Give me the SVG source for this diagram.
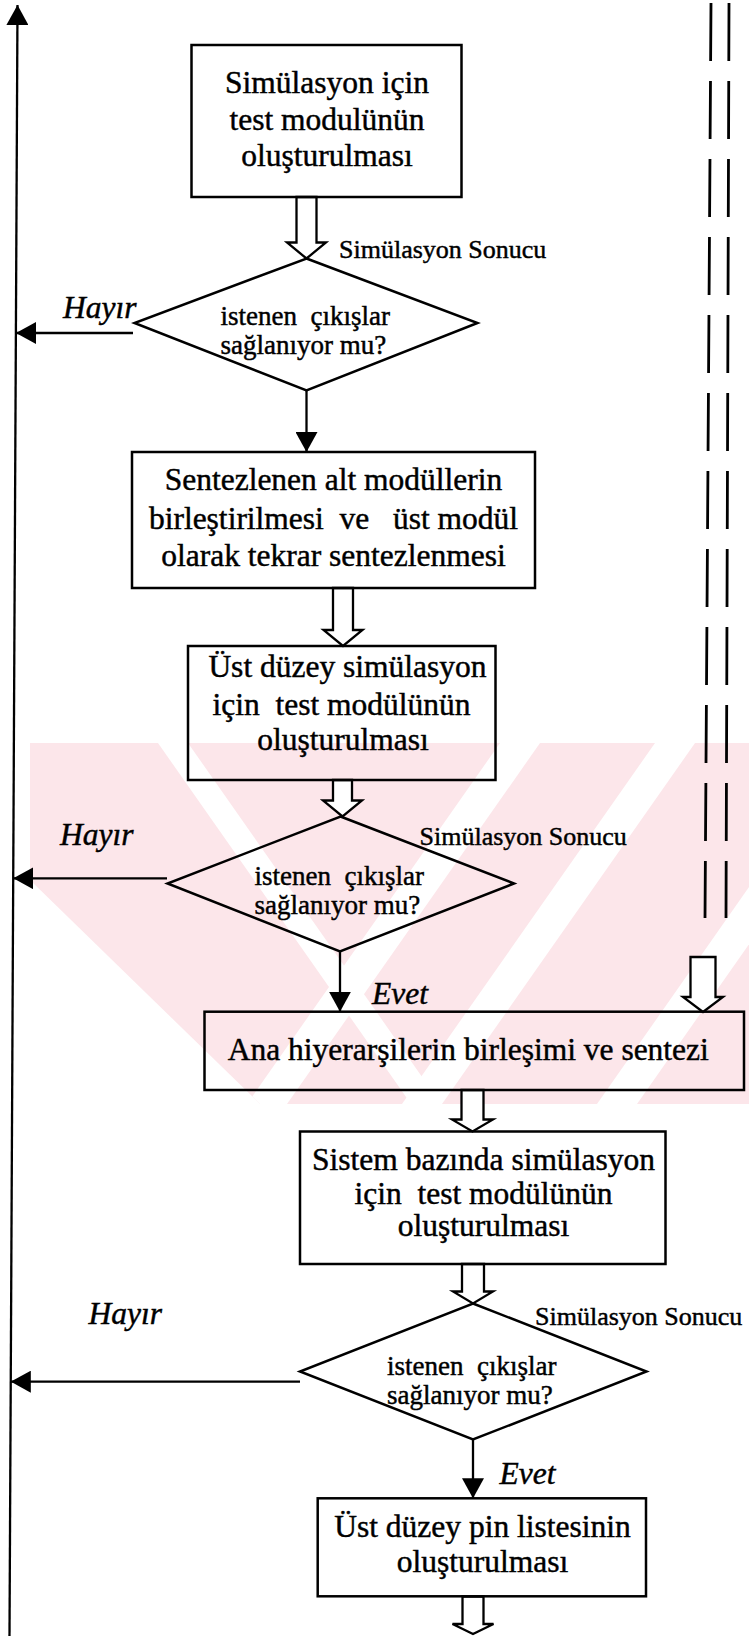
<svg xmlns="http://www.w3.org/2000/svg" width="749" height="1636" viewBox="0 0 749 1636">
  <defs>
    <marker id="tri" viewBox="0 0 20 22" refX="20" refY="11" markerWidth="20" markerHeight="22" markerUnits="userSpaceOnUse" orient="auto">
      <path d="M0,0 L20,11 L0,22 z" fill="#000"/>
    </marker>
    <clipPath id="wmClip">
      <polygon points="30,743 749,743 749,1104 260,1104 30,880"/>
    </clipPath>
  </defs>
  <style>
    .box { fill: none; stroke: #000; stroke-width: 2.5; }
    .dia { fill: none; stroke: #000; stroke-width: 2.5; stroke-linejoin: miter; }
    .ln { fill: none; stroke: #000; stroke-width: 2.3; }
    .dash { fill: none; stroke: #000; stroke-width: 2.8; stroke-dasharray: 58 20; }
    .hollow { fill: #fff; stroke: #000; stroke-width: 2.3; stroke-linejoin: miter; }
    .wm { fill: #fce6ea; }
    .wmgap { fill: #fff; }
    text { font-family: "Liberation Serif", "Times New Roman", serif; fill: #000; stroke: #000; stroke-width: 0.45; white-space: pre; }
    .t { font-size: 31.5px; text-anchor: middle; }
    .q { font-size: 27px; text-anchor: start; }
    .lbl { font-size: 26px; text-anchor: start; }
    .it { font-size: 31.5px; font-style: italic; text-anchor: start; }
  </style>

  <rect width="749" height="1636" fill="#fff"/>

  <!-- pale background mark behind the middle of the chart -->
  <g id="watermark" clip-path="url(#wmClip)">
    <rect class="wm" x="30" y="743" width="719" height="361"/>
    <polygon class="wmgap" points="158,743 188,743 441,1104 411,1104"/>
    <polygon class="wmgap" points="500,743 540,743 287,1104 247,1104"/>
    <polygon class="wmgap" points="655,743 695,743 442,1104 402,1104"/>
    <polygon class="wmgap" points="850,743 890,743 637,1104 597,1104"/>
  </g>

  <!-- connectors -->
  <g id="connectors">
    <!-- return line on the left, pointing up -->
    <line class="ln" x1="9.5" y1="1636" x2="17.5" y2="5" marker-end="url(#tri)"/>
    <!-- dashed double line on the right -->
    <line class="dash" x1="711" y1="3" x2="705" y2="918"/>
    <line class="dash" x1="729" y1="3" x2="726" y2="918"/>
    <!-- "Hayır" branches -->
    <line class="ln" x1="133" y1="333" x2="16" y2="333" marker-end="url(#tri)"/>
    <line class="ln" x1="167" y1="878.3" x2="13.3" y2="878.3" marker-end="url(#tri)"/>
    <line class="ln" x1="300" y1="1381.7" x2="10.8" y2="1381.7" marker-end="url(#tri)"/>
    <!-- "Evet" branches -->
    <line class="ln" x1="306.5" y1="390.5" x2="306.5" y2="452" marker-end="url(#tri)"/>
    <line class="ln" x1="340" y1="951.5" x2="340" y2="1011.7" marker-end="url(#tri)"/>
    <line class="ln" x1="473" y1="1439.5" x2="473" y2="1498.3" marker-end="url(#tri)"/>
    <!-- block arrows -->
    <polygon class="hollow" points="296.5,197 296.5,242.5 287,242.5 306.5,258.5 326,242.5 316.5,242.5 316.5,197"/>
    <polygon class="hollow" points="333,588 333,630 323.5,630 343,646 362.5,630 353,630 353,588"/>
    <polygon class="hollow" points="333,780 333,800.5 323,800.5 342.5,816.5 362,800.5 352,800.5 352,780"/>
    <polygon class="hollow" points="461.5,1090 461.5,1119.5 452,1119.5 472.5,1131.5 493,1119.5 483.5,1119.5 483.5,1090"/>
    <polygon class="hollow" points="462,1264 462,1291.5 453,1291.5 473,1303.5 493,1291.5 484,1291.5 484,1264"/>
    <polygon class="hollow" points="462.5,1596.5 462.5,1624 452.5,1624 473,1634 493.5,1624 483.5,1624 483.5,1596.5"/>
    <polygon class="hollow" points="690.5,957 690.5,997 683,997 703,1012 723,997 715.5,997 715.5,957"/>
  </g>

  <!-- process boxes and decisions -->
  <g id="n1">
    <rect class="box" x="191.5" y="45" width="270" height="152"/>
    <text class="t" x="327" y="93">Simülasyon için</text>
    <text class="t" x="327" y="130">test modulünün</text>
    <text class="t" x="327" y="166">oluşturulması</text>
  </g>
  <g id="n2">
    <polygon class="dia" points="306.5,258.5 477.5,323 306.5,390.5 134.5,323"/>
    <text class="q" x="220.5" y="324.5">istenen  çıkışlar</text>
    <text class="q" x="220.5" y="353.5">sağlanıyor mu?</text>
  </g>
  <g id="n3">
    <rect class="box" x="132" y="452" width="403" height="136"/>
    <text class="t" x="333.5" y="490">Sentezlenen alt modüllerin</text>
    <text class="t" x="333.5" y="529">birleştirilmesi  ve   üst modül</text>
    <text class="t" x="333.5" y="566">olarak tekrar sentezlenmesi</text>
  </g>
  <g id="n4">
    <rect class="box" x="188" y="646" width="307.5" height="134"/>
    <text class="t" x="347.5" y="677">Üst düzey simülasyon</text>
    <text class="t" x="341.5" y="715">için  test modülünün</text>
    <text class="t" x="343" y="750">oluşturulması</text>
  </g>
  <g id="n5">
    <polygon class="dia" points="340.5,816.5 514,883.5 340,951.5 167.5,883.5"/>
    <text class="q" x="254.5" y="885">istenen  çıkışlar</text>
    <text class="q" x="254.5" y="914">sağlanıyor mu?</text>
  </g>
  <g id="n6">
    <rect class="box" x="204.5" y="1011.7" width="539.5" height="78.3"/>
    <text class="t" x="468.3" y="1059.5">Ana hiyerarşilerin birleşimi ve sentezi</text>
  </g>
  <g id="n7">
    <rect class="box" x="300" y="1131.5" width="365.5" height="132.5"/>
    <text class="t" x="483.5" y="1170">Sistem bazında simülasyon</text>
    <text class="t" x="483.5" y="1204">için  test modülünün</text>
    <text class="t" x="483.5" y="1236">oluşturulması</text>
  </g>
  <g id="n8">
    <polygon class="dia" points="473,1303.5 646.5,1371.5 473,1439.5 300,1371.5"/>
    <text class="q" x="387" y="1375">istenen  çıkışlar</text>
    <text class="q" x="387" y="1404">sağlanıyor mu?</text>
  </g>
  <g id="n9">
    <rect class="box" x="317.7" y="1498.3" width="328.3" height="98"/>
    <text class="t" x="482.5" y="1537">Üst düzey pin listesinin</text>
    <text class="t" x="482.5" y="1572">oluşturulması</text>
  </g>

  <!-- edge labels -->
  <g id="labels">
    <text class="lbl" x="339" y="258">Simülasyon Sonucu</text>
    <text class="lbl" x="419.5" y="845">Simülasyon Sonucu</text>
    <text class="lbl" x="535" y="1325">Simülasyon Sonucu</text>
    <text class="it" x="63" y="318">Hayır</text>
    <text class="it" x="60" y="845">Hayır</text>
    <text class="it" x="88.5" y="1324">Hayır</text>
    <text class="it" x="372" y="1003.5">Evet</text>
    <text class="it" x="499.5" y="1483.5">Evet</text>
  </g>
</svg>
